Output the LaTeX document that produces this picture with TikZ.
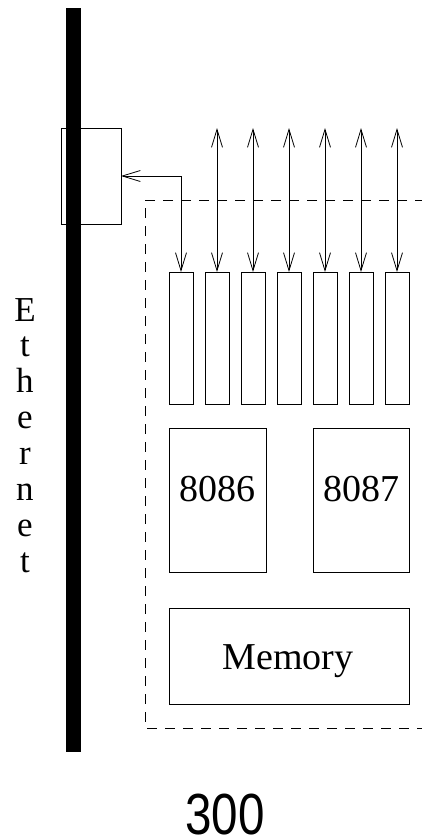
\documentclass[tikz,border=0pt]{standalone}
\usepackage{fontspec}
\setmainfont{Liberation Serif}
\newfontfamily\labelsans{Liberation Sans}
\usetikzlibrary{arrows.meta}
\begin{document}
\begin{tikzpicture}[x=1pt,y=-1pt,
  line width=0.8pt,
  box/.style={draw,line width=0.8pt,inner sep=0pt,outer sep=0pt,anchor=north west},
  slot/.style={box,minimum width=24pt,minimum height=132pt},
  chip/.style={box,minimum width=97pt,minimum height=144pt},
  bigfont/.style={font=\fontsize{38}{44}\selectfont},
  lettr/.style={font=\fontsize{35}{36}\selectfont,anchor=base,inner sep=0pt},
  barb/.style={{Straight Barb[length=18pt,width=11pt]}-{Straight Barb[length=18pt,width=11pt]}},
  dashline/.style={dash pattern=on 10pt off 8pt}
]
\useasboundingbox (0,0) rectangle (421,839);
% Ethernet bar
\fill (66,8) rectangle (80.5,752);
% Ethernet letters
\foreach \ch [count=\i from 0] in {E,t,h,e,r,n,e,t}
  \node[lettr,name=L\i] at (25,321+35.9*\i) {\ch};
% interface box
\node[box,minimum width=60pt,minimum height=96pt] (eth) at (61,128) {};
% dashed enclosure
\draw[dashline] (425,200) -- (145,200) -- (145,728) -- (425,728);
% slots
\foreach \i in {0,...,6}
  \node[slot] (s\i) at (169+36*\i,272) {};
% link from first slot to interface
\draw[barb] (s0.north) |- (eth.east);
% bus arrows
\foreach \i in {1,...,6}
  \draw[barb] (s\i.north) -- ++(0,-144) coordinate (t\i);
% chips
\node[chip] (cpu) at (169,428) {};
\node[bigfont,anchor=base] (cpul) at (217.5,501) {8086};
\node[chip,minimum width=96pt] (fpu) at (313,428) {};
\node[bigfont,anchor=base] (fpul) at (361,501) {8087};
% memory
\node[box,minimum width=240pt,minimum height=96pt] (mem) at (169,608) {};
\node[bigfont,anchor=base] (meml) at (288,669) {Memory};
% caption
\node[anchor=base,inner sep=0pt,xscale=0.82,font=\labelsans\fontsize{58}{60}\selectfont] (cap) at (225,834) {300};
\end{tikzpicture}
\end{document}
